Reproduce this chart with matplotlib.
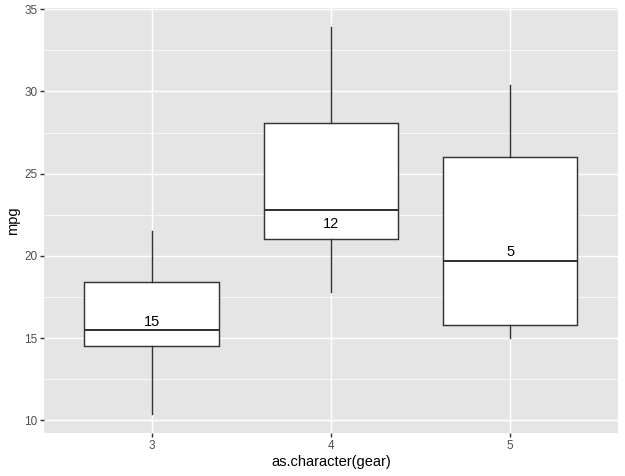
import matplotlib.pyplot as plt
import numpy as np

# values (mpg by gear)
gears = ['3', '4', '5']
q1 = [14.5, 21.0, 15.8]
medians = [15.5, 22.8, 19.7]
q3 = [18.4, 28.075, 26.0]
whisk_lo = [10.4, 17.8, 15.0]
whisk_hi = [21.5, 33.9, 30.4]
counts = [15, 12, 5]
label_y = [16.08, 22.03, 20.32]

plt.rcParams['font.family'] = ['Liberation Sans', 'DejaVu Sans']

W, H = 625, 476
fig = plt.figure(figsize=(W / 96, H / 96), dpi=96)
ax = fig.add_axes([44 / W, 1 - 433 / H, (617.7 - 44) / W, (433 - 8) / H])
ax.set_facecolor('#E5E5E5')

pos = np.arange(1, len(gears) + 1)
stats = []
for i in range(len(gears)):
    stats.append({'med': medians[i], 'q1': q1[i], 'q3': q3[i],
                  'whislo': whisk_lo[i], 'whishi': whisk_hi[i], 'fliers': []})

dark = '#333333'
ax.bxp(stats, positions=pos, widths=0.75, patch_artist=True, showcaps=False,
       boxprops=dict(facecolor='white', edgecolor=dark, linewidth=1.07),
       medianprops=dict(color=dark, linewidth=1.5),
       whiskerprops=dict(color=dark, linewidth=1.07), zorder=3)

for x, y, n in zip(pos, label_y, counts):
    ax.text(x, y, str(n), ha='center', va='center_baseline', fontsize=11,
            color='black', zorder=4)

ax.set_xlim(0.4, 3.6)
ax.set_ylim(9.225, 35.075)
ax.set_xticks(pos)
ax.set_xticklabels(gears)
ax.set_yticks([10, 15, 20, 25, 30, 35])
ax.set_yticks([12.5, 17.5, 22.5, 27.5, 32.5], minor=True)

ax.grid(which='major', color='white', linewidth=1.07, zorder=0)
ax.grid(which='minor', axis='y', color='white', linewidth=0.53, zorder=0)
ax.set_axisbelow(True)
for s in ax.spines.values():
    s.set_visible(False)
ax.tick_params(which='major', length=2.75, width=1.07, color=dark, labelcolor='#4D4D4D',
               labelsize=8.8, pad=2.2)
ax.tick_params(which='minor', length=0)

ax.set_xlabel('as.character(gear)', fontsize=11, labelpad=2.75)
ax.set_ylabel('mpg', fontsize=11, labelpad=2.75)

fig.savefig('out.png', dpi=96)
